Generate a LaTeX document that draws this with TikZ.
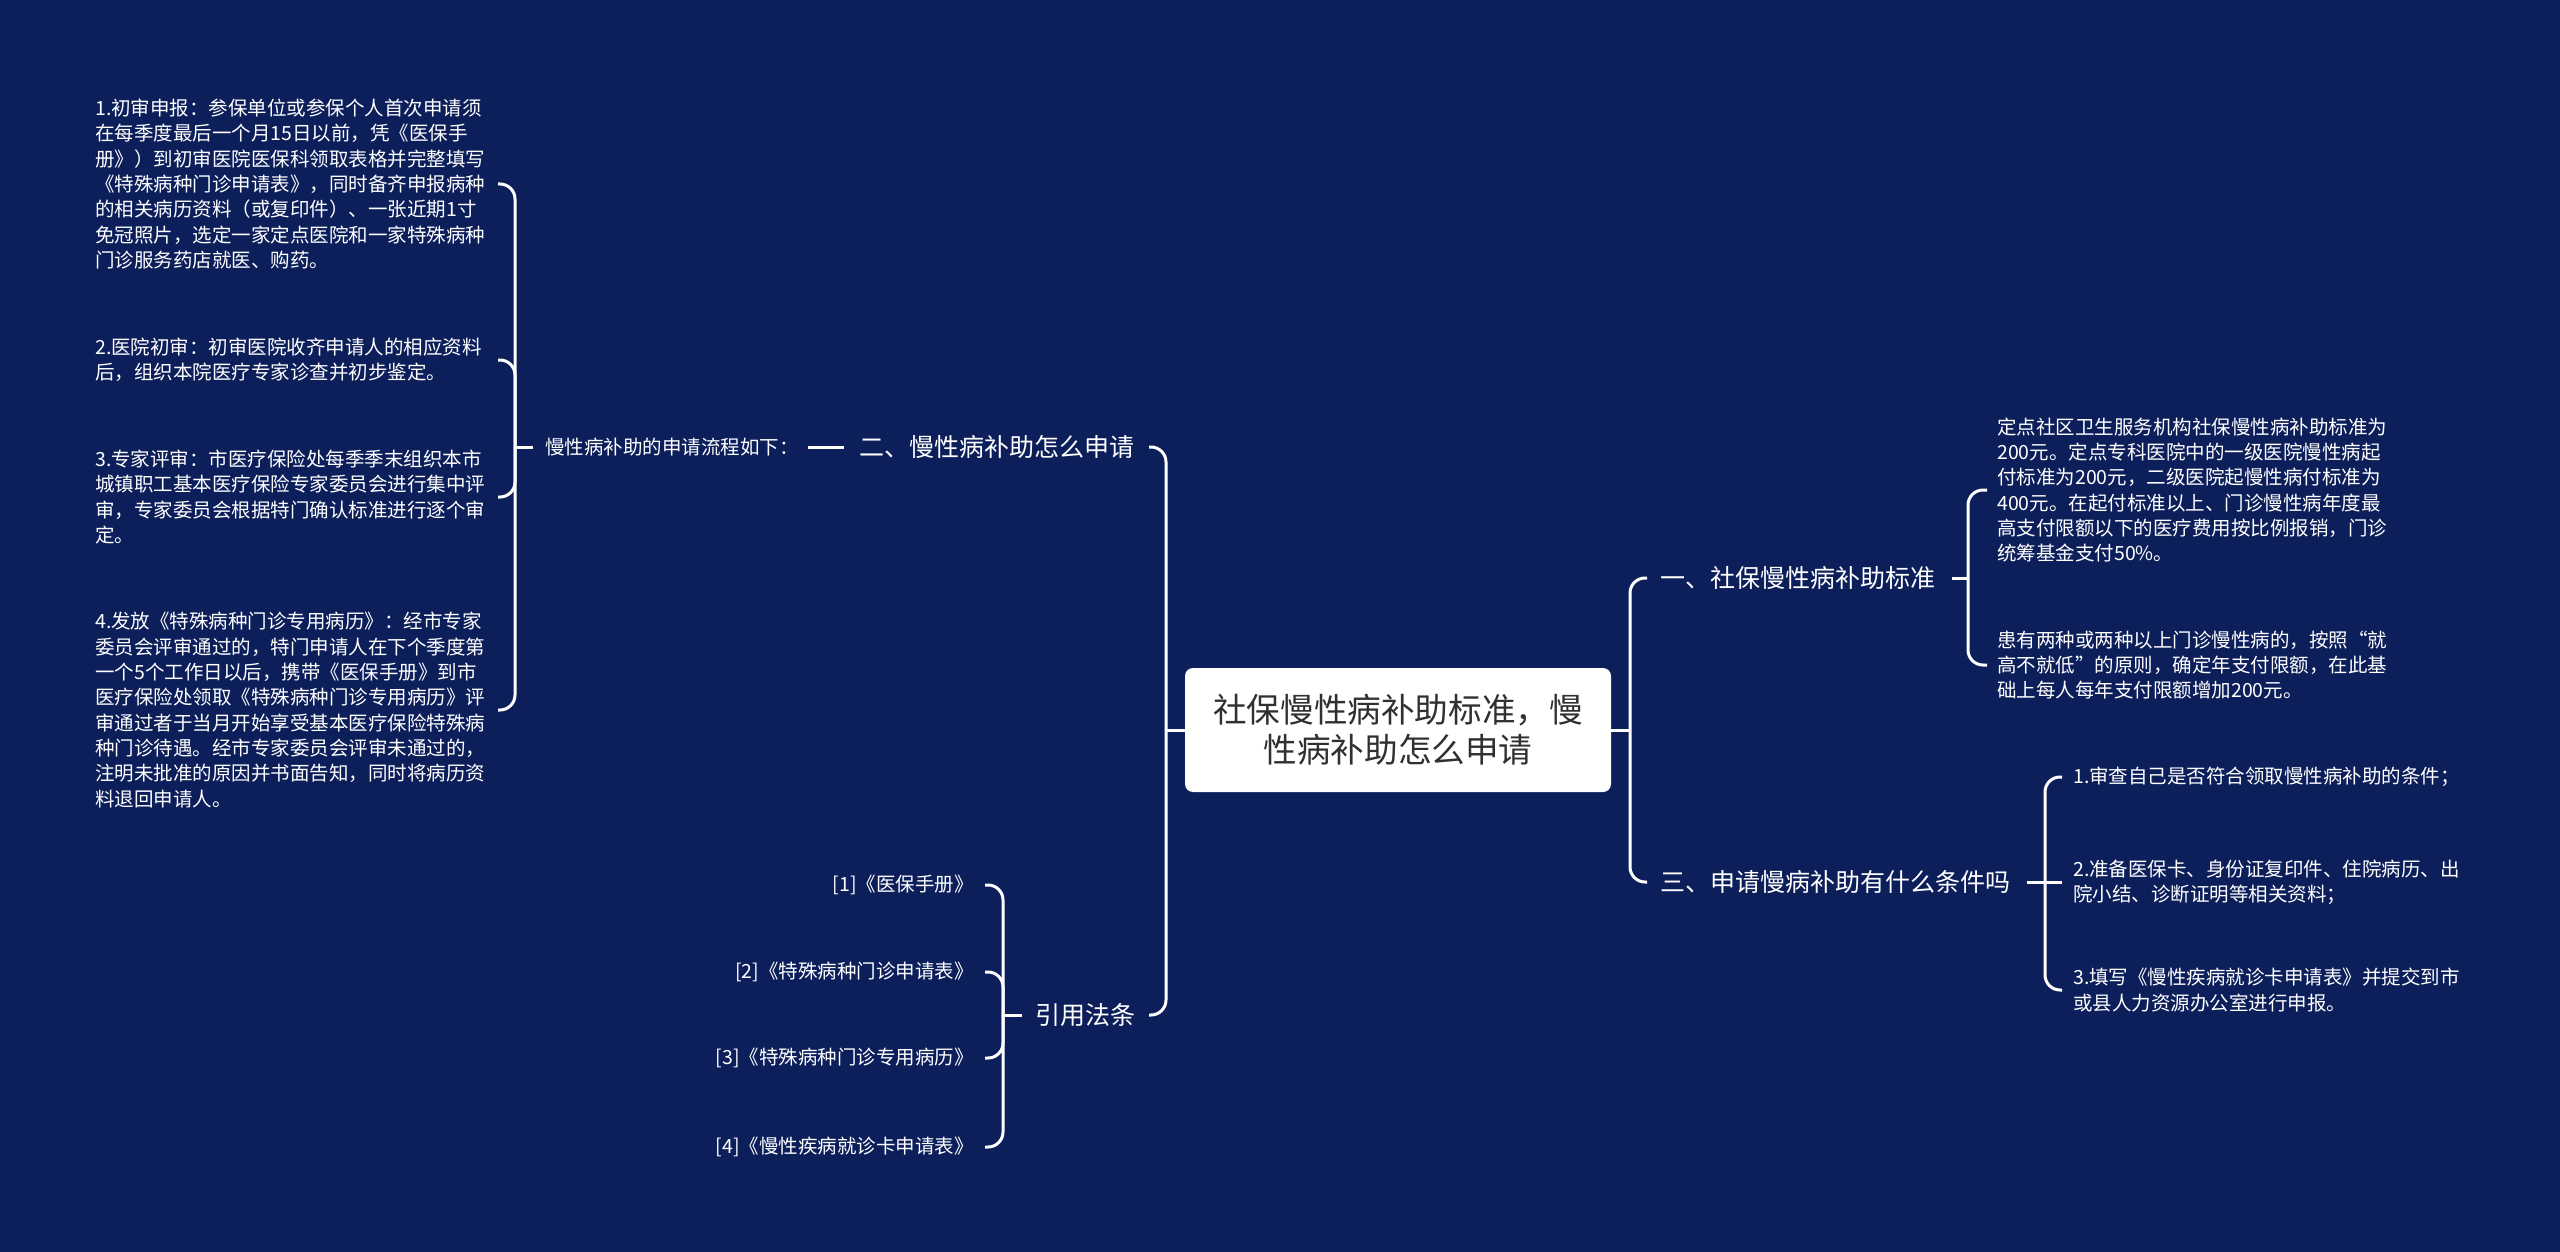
\documentclass[tikz,border=0pt]{standalone}
\usepackage{fontspec}
\newfontfamily\cjk{Noto Sans CJK SC}
\definecolor{bg}{HTML}{0C1F5B}
\definecolor{ctrtext}{HTML}{303030}
\begin{document}
\begin{tikzpicture}[x=1pt,y=-1pt,
  lnk/.style={draw=white, line width=3pt},
  brk/.style={lnk, rounded corners=15pt},
  small/.style={font=\cjk\fontsize{19.5pt}{25.3pt}\selectfont, text=white, inner sep=0pt},
  mid/.style={font=\cjk\fontsize{25pt}{30pt}\selectfont, text=white, inner sep=0pt},
  ctrbox/.style={fill=white, rounded corners=8pt, minimum width=426pt, minimum height=124pt,
     inner sep=0pt, align=center, text=ctrtext, font=\cjk\fontsize{33.6pt}{40pt}\selectfont}]
\fill[bg] (0,0) rectangle (2560,1252);
\useasboundingbox (0,0) rectangle (2560,1252);

% spine coordinates
\coordinate (sM) at (1166,0); \coordinate (eM) at (1149,0);
\coordinate (sR) at (1630,0); \coordinate (eR) at (1647,0);
\coordinate (sA) at (515,0);  \coordinate (eA) at (498,0);  \coordinate (pA) at (533,0);
\coordinate (sQ) at (1003,0); \coordinate (eQ) at (985,0);  \coordinate (pQ) at (1022,0);
\coordinate (sB) at (1968,0); \coordinate (eB) at (1987,0); \coordinate (pB) at (1952,0);
\coordinate (sC) at (2045,0); \coordinate (eC) at (2062,0); \coordinate (pC) at (2027,0);

% nodes
\node[ctrbox] (ctr) at (1398,730) {社保慢性病补助标准，慢\\性病补助怎么申请};
\node[mid, anchor=west] (n2) at (859,447) {二、慢性病补助怎么申请};
\node[mid, anchor=west] (n4) at (1035,1015) {引用法条};
\node[mid, anchor=west] (n1) at (1660,578) {一、社保慢性病补助标准};
\node[mid, anchor=west] (n3) at (1660,882) {三、申请慢病补助有什么条件吗};

\node[small, anchor=west] (flow) at (545,447) {慢性病补助的申请流程如下：};

\node[small, anchor=west, align=left] (a1) at (95,184) {1.初审申报：参保单位或参保个人首次申请须\\在每季度最后一个月15日以前，凭《医保手\\册》）到初审医院医保科领取表格并完整填写\\《特殊病种门诊申请表》，同时备齐申报病种\\的相关病历资料（或复印件）、一张近期1寸\\免冠照片，选定一家定点医院和一家特殊病种\\门诊服务药店就医、购药。};
\node[small, anchor=west, align=left] (a2) at (95,360) {2.医院初审：初审医院收齐申请人的相应资料\\后，组织本院医疗专家诊查并初步鉴定。};
\node[small, anchor=west, align=left] (a3) at (95,497) {3.专家评审：市医疗保险处每季季末组织本市\\城镇职工基本医疗保险专家委员会进行集中评\\审，专家委员会根据特门确认标准进行逐个审\\定。};
\node[small, anchor=west, align=left] (a4) at (95,710) {4.发放《特殊病种门诊专用病历》：经市专家\\委员会评审通过的，特门申请人在下个季度第\\一个5个工作日以后，携带《医保手册》到市\\医疗保险处领取《特殊病种门诊专用病历》评\\审通过者于当月开始享受基本医疗保险特殊病\\种门诊待遇。经市专家委员会评审未通过的，\\注明未批准的原因并书面告知，同时将病历资\\料退回申请人。};

\node[small, anchor=east] (r1) at (974,885) {[1]《医保手册》};
\node[small, anchor=east] (r2) at (974,972) {[2]《特殊病种门诊申请表》};
\node[small, anchor=east] (r3) at (974,1058) {[3]《特殊病种门诊专用病历》};
\node[small, anchor=east] (r4) at (974,1147) {[4]《慢性疾病就诊卡申请表》};

\node[small, anchor=west, align=left] (b1) at (1997,490) {定点社区卫生服务机构社保慢性病补助标准为\\200元。定点专科医院中的一级医院慢性病起\\付标准为200元，二级医院起慢性病付标准为\\400元。在起付标准以上、门诊慢性病年度最\\高支付限额以下的医疗费用按比例报销，门诊\\统筹基金支付50\%。};
\node[small, anchor=west, align=left] (b2) at (1997,665) {患有两种或两种以上门诊慢性病的，按照“就\\高不就低”的原则，确定年支付限额，在此基\\础上每人每年支付限额增加200元。};

\node[small, anchor=west, align=left] (c1) at (2073,777) {1.审查自己是否符合领取慢性病补助的条件；};
\node[small, anchor=west, align=left] (c2) at (2073,882) {2.准备医保卡、身份证复印件、住院病历、出\\院小结、诊断证明等相关资料；};
\node[small, anchor=west, align=left] (c3) at (2073,990) {3.填写《慢性疾病就诊卡申请表》并提交到市\\或县人力资源办公室进行申报。};

% main connectors
\draw[lnk] (ctr.west) -- (ctr.west -| sM);
\draw[brk] (ctr.west -| sM) -- (n2.east -| sM) -- (n2.east -| eM);
\draw[brk] (ctr.west -| sM) -- (n4.east -| sM) -- (n4.east -| eM);
\draw[lnk] (ctr.east) -- (ctr.east -| sR);
\draw[brk] (ctr.east -| sR) -- (n1.west -| sR) -- (n1.west -| eR);
\draw[brk] (ctr.east -| sR) -- (n3.west -| sR) -- (n3.west -| eR);

% 二 -> flow
\draw[lnk] ([xshift=-15pt]n2.west) -- ([xshift=-51pt]n2.west);

% flow group
\draw[lnk] (flow.west -| pA) -- (flow.west -| sA);
\foreach \i in {a1,a2,a3,a4}
  \draw[brk] (flow.west -| sA) -- (\i.east -| sA) -- (\i.east -| eA);

% 引用法条 group
\draw[lnk] (n4.west -| pQ) -- (n4.west -| sQ);
\foreach \i in {r1,r2,r3,r4}
  \draw[brk] (n4.west -| sQ) -- (\i.west -| sQ) -- (\i.west -| eQ);

% 一 group
\draw[lnk] (n1.east -| pB) -- (n1.east -| sB);
\foreach \i in {b1,b2}
  \draw[brk] (n1.east -| sB) -- (\i.west -| sB) -- (\i.west -| eB);

% 三 group
\draw[lnk] (n3.east -| pC) -- (n3.east -| sC);
\draw[brk] (n3.east -| sC) -- (c1.west -| sC) -- (c1.west -| eC);
\draw[lnk] (n3.east -| sC) -- (c2.west -| eC);
\draw[brk] (n3.east -| sC) -- (c3.west -| sC) -- (c3.west -| eC);
\end{tikzpicture}
\end{document}
